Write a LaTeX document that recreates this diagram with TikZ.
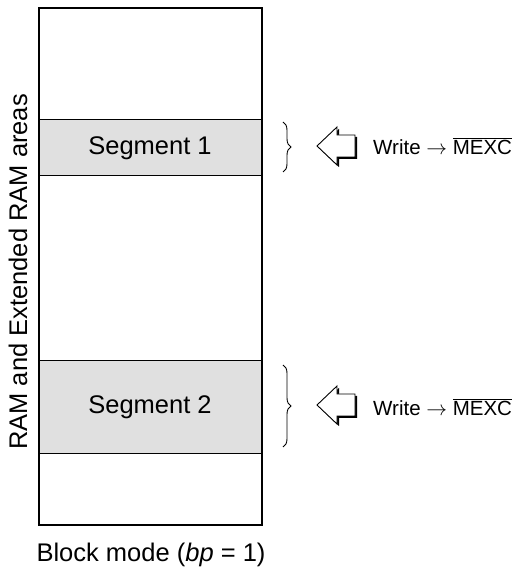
\documentclass[tikz,border=0pt]{standalone}
\usepackage{fontspec}
\setmainfont{Liberation Sans}
\usetikzlibrary{shadows,decorations.pathreplacing}
\definecolor{segGray}{RGB}{224,224,224}

\begin{document}
\begin{tikzpicture}[x=1pt,y=1pt,
  seg/.style={fill=segGray,draw=black,line width=0.9pt},
  lbl/.style={font=\fontsize{25.5}{30}\selectfont},
  wlbl/.style={font=\fontsize{20.5}{24}\selectfont,anchor=west,inner sep=0pt},
  warrow/.style={draw=black,fill=white,line width=0.9pt,line join=miter,
    drop shadow={shadow xshift=2pt,shadow yshift=-2pt,fill=black,opacity=1}},
  brc/.style={decorate,decoration={brace,amplitude=8pt},line width=0.9pt}]
  \useasboundingbox (0,0) rectangle (512,571);

  % memory block
  \draw[seg] (39,452) rectangle (262,396);
  \draw[seg] (39,211) rectangle (262,118);
  \draw[line width=1.3pt] (39,46) rectangle (262,563);
  \node[lbl] (S1) at (150,423) {Segment 1};
  \node[lbl] (S2) at (150,164) {Segment 2};

  % labels
  \node[lbl,rotate=90] (RAM) at (18,299) {RAM and Extended RAM areas};
  \node[lbl] (BM) at (151,16) {Block mode (\textit{bp} = 1)};

  % braces
  \coordinate (b1t) at (283,449);
  \coordinate (b1b) at (283,399);
  \coordinate (b2t) at (283,206);
  \coordinate (b2b) at (283,124);
  \draw[brc] (b1t) -- (b1b);
  \draw[brc] (b2t) -- (b2b);

  % write arrows
  \coordinate (a1) at (317,425);
  \coordinate (a2) at (317,166);
  \foreach \a in {a1,a2}
    \draw[warrow] (\a) -- ++(20,19) -- ++(0,-8) -- ++(18,0) -- ++(0,-22)
      -- ++(-18,0) -- ++(0,-8) -- cycle;
  \node[wlbl] (W1) at (373,425) {Write $\rightarrow$ $\overline{\mbox{MEXC}}$};
  \node[wlbl] (W2) at (373,164) {Write $\rightarrow$ $\overline{\mbox{MEXC}}$};
\end{tikzpicture}
\end{document}
